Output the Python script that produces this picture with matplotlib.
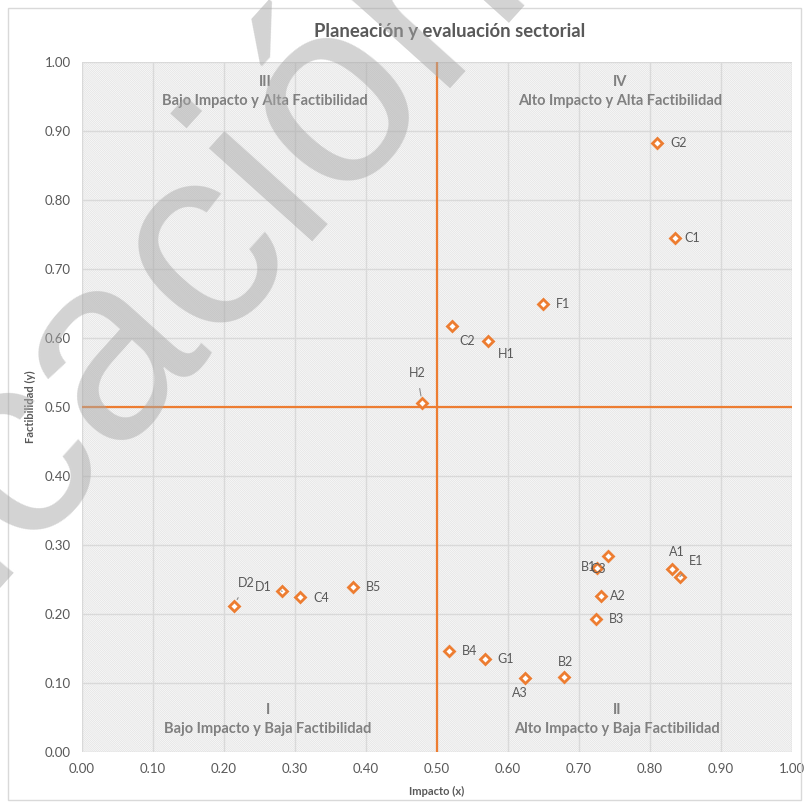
import matplotlib
matplotlib.use('Agg')
import matplotlib.pyplot as plt
from matplotlib.patches import Rectangle

# ---- data ----
labels = ['G2', 'C1', 'F1', 'C2', 'H1', 'H2', 'B1', 'C3', 'A2', 'B3', 'A1', 'E1',
          'B5', 'C4', 'D1', 'D2', 'B4', 'G1', 'A3', 'B2']
impacto = [0.810, 0.835, 0.649, 0.521, 0.572, 0.479, 0.741, 0.725, 0.731, 0.724, 0.831, 0.842,
           0.382, 0.307, 0.282, 0.214, 0.517, 0.568, 0.624, 0.679]
factibilidad = [0.883, 0.745, 0.649, 0.617, 0.596, 0.506, 0.284, 0.267, 0.226, 0.193, 0.265, 0.254,
                0.239, 0.225, 0.233, 0.212, 0.146, 0.135, 0.107, 0.109]
ticks = [0.0, 0.1, 0.2, 0.3, 0.4, 0.5, 0.6, 0.7, 0.8, 0.9, 1.0]
threshold_x = 0.5
threshold_y = 0.5

title = 'Planeación y evaluación sectorial'
xlabel = 'Impacto (x)'
ylabel = 'Factibilidad (y)'
quadrants = [('III', 'Bajo Impacto y Alta Factibilidad', 0.258, 'top'),
             ('IV', 'Alto Impacto y Alta Factibilidad', 0.758, 'top'),
             ('I', 'Bajo Impacto y Baja Factibilidad', 0.262, 'bottom'),
             ('II', 'Alto Impacto y Baja Factibilidad', 0.754, 'bottom')]

# label offsets in pixels (dx, dy, ha, leader)
label_pos = {
    'G2': (13, 0, 'left', False), 'C1': (10, 0, 'left', False), 'F1': (13, 0, 'left', False),
    'C2': (15, -15, 'center', False), 'H1': (18, -13, 'center', False),
    'H2': (-5, 30, 'center', True), 'B1': (-20, -11, 'center', False),
    'C3': (1, -1, 'center', False), 'A2': (9, 0, 'left', False), 'B3': (13, 0, 'left', False),
    'A1': (5, 17, 'center', False), 'E1': (16, 16, 'center', True),
    'B5': (13, 0, 'left', False), 'C4': (13, -1, 'left', False),
    'D1': (-19, 4, 'center', True), 'D2': (12, 23, 'center', True),
    'B4': (13, 0, 'left', False), 'G1': (12, 0, 'left', False),
    'A3': (-5, -15, 'center', False), 'B2': (1, 15, 'center', False),
}

ORANGE = '#ED7D31'
GRAY = '#595959'
FONT = 'Lato'

plt.rcParams['font.family'] = [FONT, 'DejaVu Sans']
plt.rcParams['hatch.linewidth'] = 0.5

W, H = 809, 807
fig = plt.figure(figsize=(W / 100, H / 100), dpi=100)
fig.patch.set_facecolor('white')
fig.add_artist(Rectangle((8 / W, 1 - 800 / H), 793 / W, 792 / H, transform=fig.transFigure,
                         facecolor='none', edgecolor='#d9d9d9', lw=1))

ax = fig.add_axes([82 / W, 1 - 752 / H, 710 / W, 690 / H])
ax.set_xlim(0, 1)
ax.set_ylim(0, 1)
ax.add_patch(Rectangle((0, 0), 1, 1, transform=ax.transAxes, facecolor='#fafafa',
                       edgecolor='#e2e2e2', hatch='\\' * 16, lw=0, zorder=0))
ax.set_xticks(ticks)
ax.set_yticks(ticks)
ax.set_xticklabels([f'{t:.2f}' for t in ticks])
ax.set_yticklabels([f'{t:.2f}' for t in ticks])
ax.grid(True, color='#d9d9d9', lw=1)
ax.set_axisbelow(True)
for s in ax.spines.values():
    s.set_visible(False)
ax.tick_params(length=0, labelsize=9.5, labelcolor=GRAY, pad=8)
ax.set_xlabel(xlabel, fontsize=8, fontweight='bold', color=GRAY, labelpad=8)
ax.set_ylabel(ylabel, fontsize=8, fontweight='bold', color=GRAY, labelpad=6)

ax.axvline(threshold_x, color=ORANGE, lw=1.6, zorder=2)
ax.axhline(threshold_y, color=ORANGE, lw=1.6, zorder=2)

ax.plot(impacto, factibilidad, linestyle='none', marker='D', markersize=5.5,
        markerfacecolor='white', markeredgecolor=ORANGE, markeredgewidth=2, zorder=4)

for lab, xv, yv in zip(labels, impacto, factibilidad):
    dx, dy, ha, leader = label_pos[lab]
    kw = {}
    if leader:
        kw['arrowprops'] = dict(arrowstyle='-', color='#8c8c8c', lw=0.8, shrinkA=5, shrinkB=5)
    ax.annotate(lab, (xv, yv), xytext=(dx * 0.72, dy * 0.72), textcoords='offset points',
                ha=ha, va='center', fontsize=9, color=GRAY, zorder=5, **kw)

for roman, text, qx, pos in quadrants:
    if pos == 'top':
        y1, y2 = 0.971, 0.943
    else:
        y1, y2 = 0.061, 0.033
    ax.text(qx, y1, roman, ha='center', va='center', fontsize=10.5, fontweight='bold', color='#808080')
    ax.text(qx, y2, text, ha='center', va='center', fontsize=10.5, fontweight='bold', color='#808080')

fig.text(450 / W, 1 - 31 / H, title, ha='center', va='center', fontsize=13.3,
         fontweight='bold', color=GRAY)

# watermark
fig.text(530 / W, 1 + 24 / H, 'Educación', rotation=48, rotation_mode='anchor',
         ha='right', va='baseline', fontsize=190, family='Liberation Sans',
         color='#a8a8a8', alpha=0.5, zorder=10)

fig.savefig('out.png', dpi=100)
